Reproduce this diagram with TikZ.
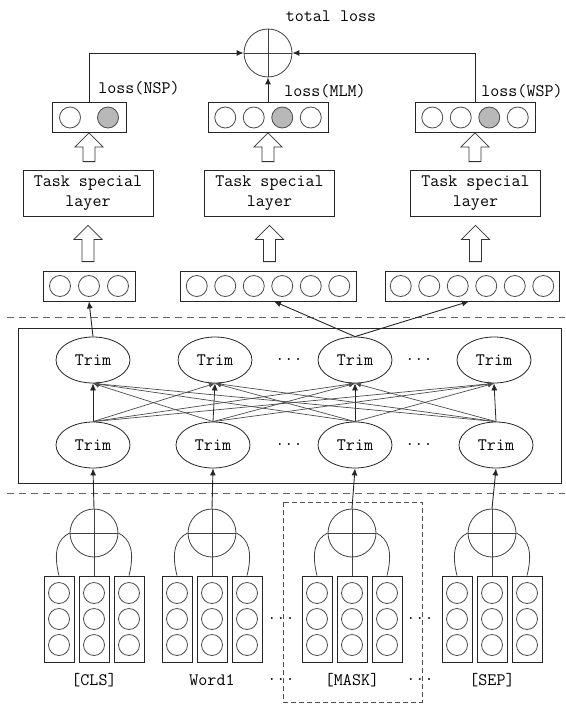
\documentclass[tikz,border=0pt]{standalone}
\usepackage{fontspec}
\usetikzlibrary{calc,arrows.meta,shapes.geometric}

% upward hollow block arrow: #1 = shaft bottom, #2 = tip
\newcommand\hollowup[2]{%
  \draw[hollow] let \p1=#1, \p2=#2 in
    (\x2-6pt,\y1) -- (\x2-6pt,\y2-14pt) -- (\x2-14pt,\y2-14pt) -- (\x2,\y2)
    -- (\x2+14pt,\y2-14pt) -- (\x2+6pt,\y2-14pt) -- (\x2+6pt,\y1) -- cycle;}

\begin{document}
\begin{tikzpicture}[x=1pt,y=-1pt,
  font=\ttfamily\fontsize{17.5}{20}\selectfont,
  line width=0.8pt, draw=black!85,
  vecbox/.style={draw, minimum width=#1, minimum height=30pt, inner sep=0pt},
  unit/.style={circle, draw=black!70, minimum size=21pt, inner sep=0pt},
  unitg/.style={unit, fill=black!28},
  taskbox/.style={draw, minimum width=130pt, minimum height=46pt, align=center, inner sep=0pt},
  trim/.style={ellipse, draw, minimum width=74pt, minimum height=46pt, inner sep=0pt},
  sum/.style={circle, draw=black!75, minimum size=48pt, inner sep=0pt},
  colbox/.style={draw, minimum width=30pt, minimum height=86pt, inner sep=0pt},
  conn/.style={-{Latex[length=7pt,width=6pt]}, line width=0.9pt},
  cross/.style={-{Latex[length=6pt,width=5pt]}, draw=black!70, line width=0.7pt},
  hollow/.style={draw=black!80, line width=0.8pt, fill=white},
  sep/.style={draw=black!60, dash pattern=on 7pt off 5pt, line width=0.8pt},
  lbl/.style={inner sep=1pt}]
\useasboundingbox (0,0) rectangle (565,704);

% ---------- total loss ----------
\node[sum] (tot) at (268,53) {};
\draw[black!75] (tot.north) -- (tot.south) (tot.west) -- (tot.east);
\node[lbl] (totlbl) at (331,16) {total loss};

% ---------- output vectors ----------
\node[vecbox=74pt] (nsp) at (89,117.5) {};
\node[unit] (nsp1) at (70,117.5) {};
\node[unitg] (nsp2) at (108,117.5) {};
\node[vecbox=120pt] (mlm) at (268,117.5) {};
\node[vecbox=120pt] (wsp) at (475,117.5) {};
\foreach \i/\s in {1/unit,2/unit,3/unitg,4/unit}{
  \node[\s] (mlm\i) at ($(mlm.center)+(-71.25+28.5*\i,0)$) {};
  \node[\s] (wsp\i) at ($(wsp.center)+(-71.25+28.5*\i,0)$) {};
}
\node[lbl] (lnsp) at (139,88) {loss(NSP)};
\node[lbl] (lmlm) at (325,91) {loss(MLM)};
\node[lbl] (lwsp) at (522,91) {loss(WSP)};

\draw[conn] (nsp.north) |- (tot.west);
\draw[conn] (wsp.north) |- (tot.east);
\draw[conn] (mlm.north) -- (tot.south);

% ---------- task layers ----------
\node[taskbox] (task1) at (88,193) {Task special\\layer};
\node[taskbox] (task2) at (269.5,193) {Task special\\layer};
\node[taskbox] (task3) at (475.5,193) {Task special\\layer};

\hollowup{($(task1.north)+(0,-8)$)}{(nsp.south)}
\hollowup{($(task2.north)+(0,-8)$)}{(mlm.south)}
\hollowup{($(task3.north)+(0,-8)$)}{(wsp.south)}

% ---------- encoder output vectors ----------
\node[vecbox=92pt] (va) at (89,286) {};
\node[vecbox=176pt] (vb) at (268,286) {};
\node[vecbox=174pt] (vc) at (472,286) {};
\foreach \i in {1,2,3}
  \node[unit] (va\i) at ($(va.center)+(-58+29*\i,0)$) {};
\foreach \i in {1,...,6}{
  \node[unit] (vb\i) at ($(vb.center)+(-99.75+28.5*\i,0)$) {};
  \node[unit] (vc\i) at ($(vc.center)+(-99.75+28.5*\i,0)$) {};
}

\hollowup{($(va.north)+(0,-9)$)}{($(task1.south)+(0,9)$)}
\hollowup{($(vb.north)+(0,-9)$)}{($(task2.south)+(0,9)$)}
\hollowup{($(vc.north)+(0,-9)$)}{($(task3.south)+(0,9)$)}

% ---------- encoder ----------
\draw[sep] (7,317) -- (565,317);
\draw[sep] (7,493) -- (565,493);
\draw (18,328) rectangle (561,483);

\node[trim] (t1) at (93,360) {Trim};
\node[trim] (t2) at (215,360) {Trim};
\node[trim] (t3) at (355,360) {Trim};
\node[trim] (t4) at (494,360) {Trim};
\node[trim] (b1) at (93,445) {Trim};
\node[trim] (b2) at (213,445) {Trim};
\node[trim] (b3) at (355,445) {Trim};
\node[trim] (b4) at (496,445) {Trim};
\node[lbl] (dt1) at (289,360) {...};
\node[lbl] (dt2) at (419,360) {...};
\node[lbl] (db1) at (289,445) {...};
\node[lbl] (db2) at (419,445) {...};

\foreach \i in {1,...,4}
  \foreach \j in {1,...,4}{
    \ifnum\i=\j
      \draw[conn, line width=0.8pt] (b\i.north) -- (t\j.south);
    \else
      \draw[cross] (b\i.north) -- (t\j.south);
    \fi
  }

\draw[conn] (t1.north) -- (va.south);
\draw[conn] (t3.north) -- ($(vb.south)+(6,0)$);
\draw[conn] (t3.north) -- ($(vc.south)+(-3,0)$);

% ---------- input embeddings ----------
\draw[draw=black!70, dash pattern=on 5pt off 3pt] (283,502) rectangle (422,702);

\foreach \g/\cx/\txt in {1/94/{[CLS]},2/212/{Word1},3/352/{[MASK]},4/492/{[SEP]}}{
  \node[sum] (p\g) at (\cx,533) {};
  \foreach \k in {1,2,3}{
    \node[colbox] (c\g\k) at ($(\cx,619)+(-70+35*\k,0)$) {};
    \foreach \r in {1,2,3}
      \node[unit] (u\g\k\r) at ($(c\g\k.center)+(0,-52+26*\r)$) {};
  }
  \draw[black!75] (p\g.north) -- (c\g2.north) (p\g.west) -- (p\g.east);
  \draw[black!75] (c\g1.north) .. controls ($(c\g1.north)+(-6,-24)$) and ($(p\g.west)+(-12,6)$) .. (p\g.west);
  \draw[black!75] (c\g3.north) .. controls ($(c\g3.north)+(6,-24)$) and ($(p\g.east)+(12,6)$) .. (p\g.east);
  \node[lbl] (w\g) at (\cx,680) {\txt};
  \draw[conn] (p\g.north) -- (b\g.south);
}
\node[lbl] (de1) at (281,619) {...};
\node[lbl] (de2) at (420,619) {...};
\node[lbl] (dl1) at (281,680) {...};
\node[lbl] (dl2) at (420,680) {...};
\end{tikzpicture}
\end{document}
